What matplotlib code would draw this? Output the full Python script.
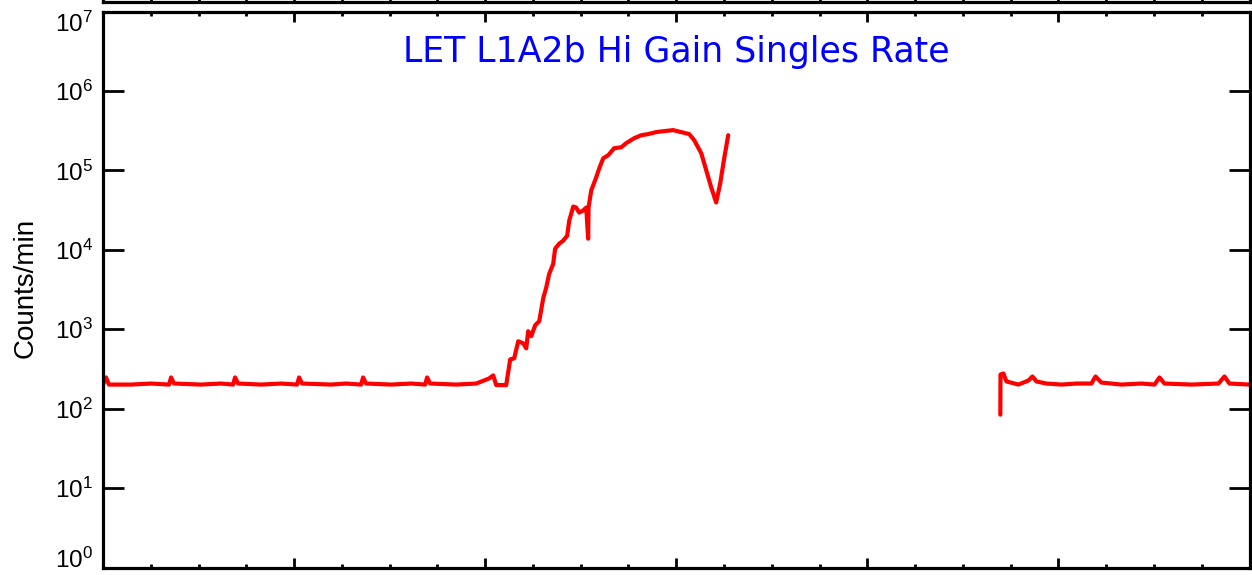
import matplotlib
matplotlib.use('Agg')
import matplotlib.pyplot as plt
from matplotlib.ticker import MultipleLocator, FixedLocator, NullLocator

plt.rcParams['mathtext.fontset'] = 'custom'
plt.rcParams['mathtext.rm'] = 'Liberation Sans'
plt.rcParams['mathtext.it'] = 'Liberation Sans:italic'
plt.rcParams['mathtext.bf'] = 'Liberation Sans:bold'

# ---- data (time in arbitrary units 0..6, rate in counts/min) ----
seg1_t = [0.000, 0.016, 0.031, 0.147, 0.251, 0.346, 0.356, 0.372, 0.513, 0.618,
          0.681, 0.691, 0.707, 0.827, 0.932, 1.016, 1.026, 1.042, 1.194, 1.272,
          1.351, 1.361, 1.377, 1.508, 1.613, 1.686, 1.696, 1.712, 1.848, 1.953,
          2.021, 2.042, 2.058, 2.110, 2.131, 2.152, 2.173, 2.199, 2.215, 2.225,
          2.241, 2.262, 2.283, 2.304, 2.319, 2.335, 2.356, 2.366, 2.387, 2.408,
          2.429, 2.440, 2.461, 2.476, 2.492, 2.513, 2.529, 2.539, 2.541, 2.555,
          2.581, 2.597, 2.618, 2.644, 2.675, 2.712, 2.738, 2.780, 2.817, 2.853,
          2.895, 2.937, 2.984, 3.026, 3.068, 3.094, 3.131, 3.157, 3.183, 3.209,
          3.230, 3.251, 3.272]
seg1_rate = [201, 247, 201, 201, 207, 201, 247, 207, 201, 207,
             201, 247, 207, 201, 207, 201, 247, 207, 201, 207,
             201, 247, 207, 201, 207, 201, 247, 207, 201, 207,
             240, 262, 198, 198, 417, 430, 705, 665, 574, 944,
             815, 1124, 1262, 2467, 3304, 4970, 6650, 10300, 11900, 13000,
             15000, 23300, 35000, 34000, 29400, 31200, 34000, 13800, 34000, 55800,
             81500, 106000, 142000, 155000, 190000, 195000, 220000, 254000, 277000, 286000,
             303000, 312000, 321000, 303000, 286000, 240000, 164000, 100000, 61000, 39400,
             68400, 142000, 277000]

seg2_t = [4.696, 4.697, 4.712, 4.728, 4.791, 4.843, 4.864, 4.885, 4.937, 5.016,
          5.094, 5.173, 5.194, 5.225, 5.330, 5.435, 5.503, 5.529, 5.555, 5.696,
          5.838, 5.869, 5.895, 6.000]
seg2_rate = [84, 269, 277, 220, 201, 226, 254, 220, 207, 201,
             207, 207, 254, 213, 201, 207, 201, 247, 207, 201,
             207, 254, 207, 201]

ytick_vals = [1e0, 1e1, 1e2, 1e3, 1e4, 1e5, 1e6, 1e7]
ytick_labels = ['$10^{0}$', '$10^{1}$', '$10^{2}$', '$10^{3}$',
                '$10^{4}$', '$10^{5}$', '$10^{6}$', '$10^{7}$']
title = 'LET L1A2b Hi Gain Singles Rate'
ylabel = 'Counts/min'

W_PX, H_PX = 1252, 575
fig = plt.figure(figsize=(W_PX / 100, H_PX / 100), dpi=100)

L = 103 / W_PX
W = 1146.5 / W_PX


def style(a, labels=True):
    a.set_yscale('log')
    a.set_ylim(1, 1e7)
    a.set_xlim(0, 6)
    a.set_facecolor('none')
    for s in a.spines.values():
        s.set_linewidth(2.3)
    a.xaxis.set_major_locator(MultipleLocator(1))
    a.xaxis.set_minor_locator(MultipleLocator(0.25))
    a.yaxis.set_major_locator(FixedLocator(ytick_vals))
    a.yaxis.set_minor_locator(NullLocator())
    a.tick_params(axis='x', which='major', direction='in', length=7.2, width=2,
                  top=True, bottom=True, labelbottom=False, labeltop=False)
    a.tick_params(axis='x', which='minor', direction='in', length=3.2, width=2,
                  top=True, bottom=True)
    a.tick_params(axis='y', which='major', direction='in', length=15, width=2,
                  left=True, right=True, labelsize=17.5, pad=7,
                  labelleft=labels)
    if labels:
        a.set_yticklabels(ytick_labels)
        labs = a.get_yticklabels()
        labs[0].set_verticalalignment('baseline')
        labs[-1].set_verticalalignment('top')


ax = fig.add_axes([L, 1 - 567.5 / H_PX, W, 556 / H_PX])
style(ax)
ax.plot(seg1_t, seg1_rate, color='red', lw=3, solid_joinstyle='round', solid_capstyle='round')
ax.plot(seg2_t, seg2_rate, color='red', lw=3, solid_joinstyle='round', solid_capstyle='round')

ax.text(0.5, (567.5 - 62) / 556, title, transform=ax.transAxes, ha='center',
        va='baseline', color='blue', fontsize=25, family='DejaVu Sans')

fig.text(33 / W_PX, 1 - 288 / H_PX, ylabel, rotation=90, rotation_mode='anchor',
         ha='center', va='baseline', fontsize=20, family='Liberation Sans')

# neighbouring panel above (cropped; only its lower frame edge is visible)
ax_up = fig.add_axes([L, 1 - 1.5 / H_PX, W, 0.9])
style(ax_up, labels=False)

fig.savefig('out.png', dpi=100)
